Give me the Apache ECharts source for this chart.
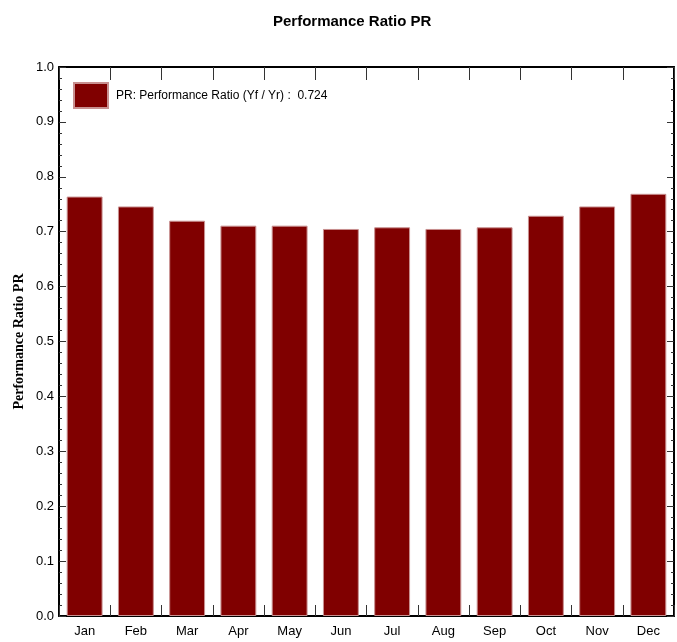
<!DOCTYPE html>
<html>
<head>
<meta charset="utf-8">
<script src="https://cdn.jsdelivr.net/npm/echarts@6/dist/echarts.min.js"></script>
<style>
  html, body { margin: 0; padding: 0; background: #fff; }
  #chart { width: 677px; height: 642px; }
</style>
</head>
<body>
<div id="chart"></div>
<script>
// Monthly performance ratio
const months = ['Jan', 'Feb', 'Mar', 'Apr', 'May', 'Jun', 'Jul', 'Aug', 'Sep', 'Oct', 'Nov', 'Dec'];
const prValues = [0.764, 0.746, 0.720, 0.711, 0.711, 0.705, 0.708, 0.705, 0.708, 0.729, 0.746, 0.769];
const yearlyPR = 0.724;
const seriesName = 'PR: Performance Ratio (Yf / Yr) :  ' + yearlyPR.toFixed(3);

const sans = '"Liberation Sans", Arial, sans-serif';
const serif = '"Liberation Serif", "Times New Roman", serif';
const tickStyle = { color: '#333', width: 1 };

const chart = echarts.init(document.getElementById('chart'), null, { renderer: 'canvas' });

const valueAxisBase = {
  type: 'value',
  min: 0,
  max: 1,
  interval: 0.1,
  splitLine: { show: false },
  axisLine: { show: true, onZero: false, lineStyle: { color: '#000', width: 2 } },
  axisTick: { show: true, inside: true, length: 7, lineStyle: tickStyle },
  minorTick: { show: true, splitNumber: 5, length: 3, lineStyle: tickStyle }
};

const categoryAxisBase = {
  type: 'category',
  data: months,
  boundaryGap: true,
  axisLine: { show: true, onZero: false, lineStyle: { color: '#000', width: 2 } },
  axisTick: { show: true, inside: true, length: 11, alignWithLabel: false, lineStyle: tickStyle },
  splitLine: { show: false }
};

chart.setOption({
  animation: false,
  backgroundColor: '#fff',
  title: {
    text: 'Performance Ratio PR',
    left: 268,
    top: 9,
    textStyle: { fontFamily: sans, fontSize: 15, fontWeight: 'bold', color: '#000' }
  },
  legend: {
    left: 68,
    top: 77,
    icon: 'rect',
    itemWidth: 34,
    itemHeight: 25,
    data: [seriesName],
    textStyle: { fontFamily: sans, fontSize: 12, color: '#000', padding: [0, 0, 0, 3] }
  },
  grid: { left: 59, right: 3, top: 67, bottom: 26, containLabel: false },
  xAxis: [
    Object.assign({}, categoryAxisBase, {
      position: 'bottom',
      axisLabel: { show: true, fontFamily: sans, fontSize: 13, color: '#000', margin: 9 }
    }),
    Object.assign({}, categoryAxisBase, {
      position: 'top',
      axisTick: Object.assign({}, categoryAxisBase.axisTick, { length: 13 }),
      axisLabel: { show: false }
    })
  ],
  yAxis: [
    Object.assign({}, valueAxisBase, {
      position: 'left',
      name: 'Performance Ratio PR',
      nameLocation: 'middle',
      nameGap: 33,
      nameMoveOverlap: false,
      nameRotate: 90,
      nameTextStyle: { fontFamily: serif, fontSize: 14, fontWeight: 'bold', color: '#000' },
      axisLabel: {
        show: true,
        fontFamily: sans,
        fontSize: 13,
        color: '#000',
        margin: 5,
        formatter: v => v.toFixed(1)
      }
    }),
    Object.assign({}, valueAxisBase, {
      position: 'right',
      axisLabel: { show: false }
    })
  ],
  series: [{
    name: seriesName,
    type: 'bar',
    xAxisIndex: 0,
    yAxisIndex: 0,
    data: prValues,
    barWidth: '70%',
    itemStyle: { color: '#800000', borderColor: '#c89090', borderWidth: 1 }
  }]
});
</script>
</body>
</html>
